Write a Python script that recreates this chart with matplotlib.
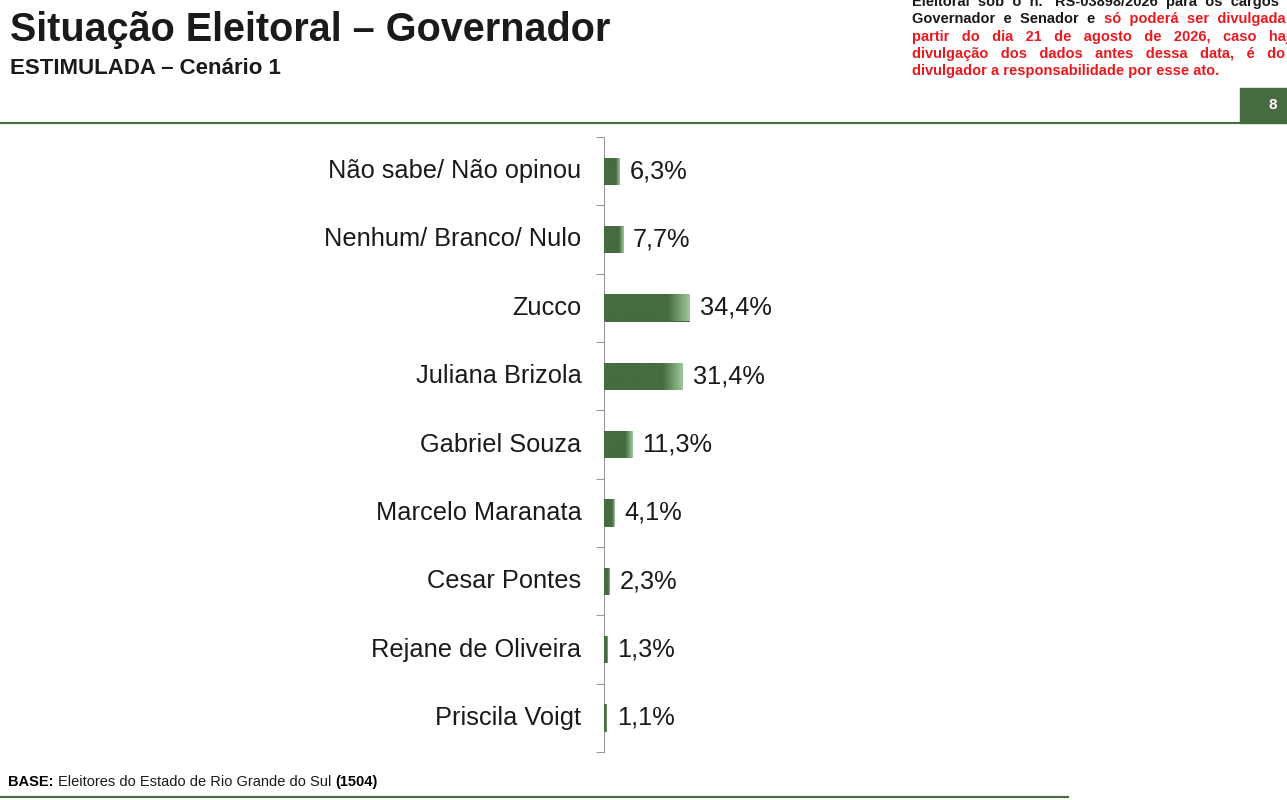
import numpy as np
import matplotlib
matplotlib.use("Agg")
import matplotlib.pyplot as plt
from matplotlib.colors import LinearSegmentedColormap

plt.rcParams["font.family"] = ["Liberation Sans", "DejaVu Sans"]

GREEN = "#466b40"
RED = "#e8191f"

categories = ["Não sabe/ Não opinou", "Nenhum/ Branco/ Nulo", "Zucco", "Juliana Brizola",
              "Gabriel Souza", "Marcelo Maranata", "Cesar Pontes", "Rejane de Oliveira",
              "Priscila Voigt"]
values = [6.3, 7.7, 34.4, 31.4, 11.3, 4.1, 2.3, 1.3, 1.1]
labels = ["6,3%", "7,7%", "34,4%", "31,4%", "11,3%", "4,1%", "2,3%", "1,3%", "1,1%"]

W, H = 1287, 800
fig = plt.figure(figsize=(W / 100, H / 100), dpi=100, facecolor="white")
renderer = fig.canvas.get_renderer()


def fx(px):
    return px / W


def fy(py):
    return 1 - py / H


def run_text(x_px, y_px, parts, size):
    # draws consecutive pieces of text with different colours / weights
    x = fx(x_px)
    for s, c, w in parts:
        t = fig.text(x, fy(y_px), s, fontsize=size, fontweight=w, color=c, va="center")
        x += t.get_window_extent(renderer).width / W


# header
fig.text(fx(10), fy(30), "Situação Eleitoral – Governador", fontsize=28.5, fontweight="bold",
         va="center", color="#1a1a1a")
fig.text(fx(10), fy(68), "ESTIMULADA – Cenário 1", fontsize=16, fontweight="bold",
         va="center", color="#1a1a1a")

note = [
    [("Eleitoral  sob  o  n.   RS-03898/2026  para  os  cargos  de", "#1a1a1a", "bold")],
    [("Governador  e  Senador  e  ", "#1a1a1a", "bold"), ("só  poderá  ser  divulgada  a", RED, "bold")],
    [("partir   do   dia   21   de   agosto   de   2026,   caso   haja", RED, "bold")],
    [("divulgação   dos   dados   antes   dessa   data,   é   do", RED, "bold")],
    [("divulgador a responsabilidade por esse ato.", RED, "bold")],
]
for i, parts in enumerate(note):
    run_text(912, 2 + i * 17.3, parts, 10.5)

fig.add_artist(plt.Line2D([0, 1], [fy(123), fy(123)], color=GREEN, lw=1.5))
fig.add_artist(plt.Rectangle((fx(1240), fy(123)), fx(47), 35 / H, color=GREEN))
fig.text(fx(1273), fy(105), "8", color="white", fontsize=11, fontweight="bold",
         ha="center", va="center")

fig.add_artist(plt.Line2D([0, fx(1068)], [fy(797), fy(797)], color=GREEN, lw=1.5))
run_text(8, 782, [("BASE: ", "#000000", "bold"),
                  ("Eleitores do Estado de Rio Grande do Sul ", "#1a1a1a", "normal"),
                  ("(1504)", "#000000", "bold")], 10.5)

# chart
ax = fig.add_axes([fx(604), fy(752), fx(500), (752 - 137) / H])
n = len(categories)
for s in ["top", "right", "bottom"]:
    ax.spines[s].set_visible(False)
ax.spines["left"].set_color("#999999")
ax.set_xticks([])
ax.set_yticks(np.arange(-0.5, n, 1))
ax.set_yticklabels([])
ax.tick_params(axis="y", length=6, color="#999999", direction="out")

cmap = LinearSegmentedColormap.from_list("g", [(0, GREEN), (0.75, GREEN), (1, "#9cc79a")])
grad = np.linspace(0, 1, 64).reshape(1, -1)
h = 0.4
for i, (cat, v, lab) in enumerate(zip(categories, values, labels)):
    bar = ax.barh(i, v, height=h, color=GREEN)[0]
    im = ax.imshow(grad, cmap=cmap, aspect="auto", extent=[0, v, i + h / 2, i - h / 2],
                   zorder=3)
    im.set_clip_path(bar)
    ax.text(-9, i, cat, ha="right", va="center", fontsize=18.3, color="#1a1a1a")
    ax.text(v + 4, i, lab, ha="left", va="center", fontsize=18.3, color="#1a1a1a")
ax.set_xlim(0, 200)
ax.set_ylim(n - 0.5, -0.5)

fig.savefig("out.png", dpi=100, facecolor="white")
